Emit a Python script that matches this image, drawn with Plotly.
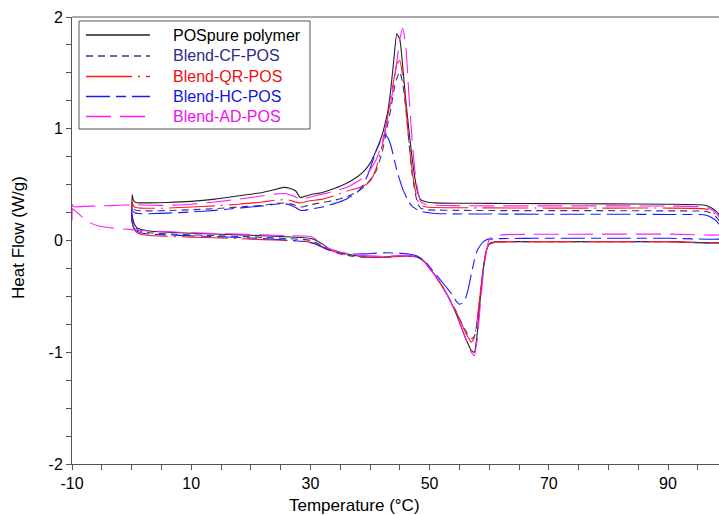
import plotly.graph_objects as go

# ---------------- data ----------------
series_names = ["POSpure polymer", "Blend-CF-POS", "Blend-QR-POS", "Blend-HC-POS", "Blend-AD-POS"]

# cooling branch temperatures (decreasing)
T_up = [100, 99, 98, 97, 96, 90, 80, 70, 60, 54, 51, 49.5, 48.5, 48, 47.5, 47, 46.5, 46, 45.5, 45,
        44.5, 44, 43.5, 43, 42.5, 42, 41, 40, 39, 38, 36, 34, 32, 30, 29, 28.3, 27.5, 26.5, 25.5, 24,
        22, 18, 14, 10, 6, 3, 1.5, 0.7, 0.3, 0.1, 0.0, -2, -5, -8, -9.5, -9.9, -10]

POS_up = [0.10, 0.20, 0.265, 0.30, 0.318, 0.325, 0.328, 0.33, 0.332, 0.334, 0.337, 0.345, 0.365, 0.43, 0.57,
          0.77, 1.00, 1.26, 1.55, 1.80, 1.85, 1.62, 1.36, 1.16, 1.04, 0.94, 0.80, 0.69, 0.62, 0.575, 0.51,
          0.465, 0.43, 0.41, 0.395, 0.385, 0.445, 0.468, 0.475, 0.455, 0.43, 0.40, 0.37, 0.35, 0.34, 0.337,
          0.337, 0.34, 0.36, 0.41, 0.27, None, None, None, None, None, None]
CF_up = [0.08, 0.15, 0.215, 0.25, 0.262, 0.265, 0.267, 0.267, 0.268, 0.27, 0.272, 0.275, 0.29, 0.33, 0.45,
         0.62, 0.90, 1.18, 1.40, 1.51, 1.45, 1.34, 1.18, 1.05, 0.91, 0.78, 0.62, 0.54, 0.48, 0.44, 0.39,
         0.36, 0.34, 0.32, 0.305, 0.30, 0.315, 0.33, 0.335, 0.33, 0.315, 0.30, 0.285, 0.275, 0.268, 0.265,
         0.265, 0.27, 0.285, 0.32, 0.20, None, None, None, None, None, None]
QR_up = [0.09, 0.17, 0.235, 0.27, 0.285, 0.29, 0.29, 0.29, 0.292, 0.293, 0.295, 0.30, 0.315, 0.36, 0.48,
         0.66, 0.90, 1.21, 1.46, 1.61, 1.58, 1.44, 1.29, 1.12, 0.97, 0.84, 0.64, 0.53, 0.49, 0.47, 0.44,
         0.40, 0.37, 0.355, 0.345, 0.335, 0.345, 0.36, 0.365, 0.36, 0.345, 0.325, 0.31, 0.30, 0.29, 0.288,
         0.29, 0.295, 0.31, 0.35, 0.22, None, None, None, None, None, None]
HC_up = [0.06, 0.12, 0.18, 0.215, 0.23, 0.233, 0.235, 0.235, 0.237, 0.238, 0.242, 0.25, 0.262, 0.272, 0.29,
         0.31, 0.345, 0.40, 0.46, 0.54, 0.63, 0.74, 0.85, 0.92, 0.945, 0.91, 0.80, 0.64, 0.51, 0.44, 0.37,
         0.33, 0.30, 0.28, 0.27, 0.27, 0.295, 0.32, 0.33, 0.325, 0.31, 0.29, 0.27, 0.255, 0.245, 0.24,
         0.24, 0.245, 0.26, 0.30, 0.17, None, None, None, None, None, None]
AD_up = [0.10, 0.18, 0.25, 0.285, 0.30, 0.308, 0.31, 0.31, 0.31, 0.312, 0.315, 0.32, 0.35, 0.45, 0.64,
         0.95, 1.33, 1.74, 1.90, 1.80, 1.60, 1.40, 1.24, 1.10, 0.98, 0.87, 0.72, 0.63, 0.57, 0.53, 0.475,
         0.44, 0.415, 0.39, 0.375, 0.365, 0.39, 0.41, 0.42, 0.415, 0.40, 0.37, 0.345, 0.325, 0.315, 0.315,
         0.318, 0.32, 0.32, 0.32, 0.32, 0.315, 0.31, 0.305, 0.30, 0.31, 0.37]

# heating branch temperatures (increasing)
T_low = [-10, -9.9, -9.5, -9, -8, -7, -5.5, -3, 0.0, 0.05, 0.3, 0.7, 1.5, 3, 6, 10, 14, 18, 22, 26, 29, 30,
         31, 32, 33, 35, 37, 39, 41, 43, 45, 47, 48, 49, 50, 51, 52, 53, 54, 54.5, 55, 55.5, 56, 56.5, 57,
         57.5, 58, 58.5, 59, 59.5, 60, 61, 63, 66, 70, 80, 90, 100]

POS_low = [None] * 9 + [0.24, 0.17, 0.125, 0.10, 0.085, 0.075, 0.065, 0.058, 0.05, 0.043, 0.033, 0.025, 0.018,
           0.0, -0.03, -0.07, -0.105, -0.13, -0.145, -0.15, -0.147, -0.14, -0.14, -0.15, -0.18, -0.245,
           -0.32, -0.40, -0.49, -0.60, -0.66, -0.73, -0.80, -0.87, -0.93, -0.985, -1.0, -0.83, -0.52, -0.26,
           -0.10, -0.03, -0.012, -0.01, -0.01, -0.01, -0.01, -0.01, -0.01]
CF_low = [None] * 9 + [0.21, 0.15, 0.11, 0.085, 0.07, 0.06, 0.05, 0.044, 0.036, 0.028, 0.018, 0.008, 0.0,
          -0.02, -0.05, -0.08, -0.12, -0.14, -0.15, -0.152, -0.148, -0.142, -0.142, -0.15, -0.185, -0.25,
          -0.32, -0.40, -0.49, -0.59, -0.64, -0.70, -0.75, -0.80, -0.85, -0.875, -0.86, -0.72, -0.48, -0.25,
          -0.10, -0.035, -0.015, -0.012, -0.01, -0.01, -0.01, -0.01, -0.01]
QR_low = [None] * 9 + [0.19, 0.12, 0.08, 0.055, 0.045, 0.038, 0.03, 0.025, 0.017, 0.008, 0.0, -0.008, -0.015,
          -0.03, -0.055, -0.08, -0.115, -0.135, -0.145, -0.148, -0.145, -0.14, -0.14, -0.15, -0.185, -0.25,
          -0.32, -0.40, -0.49, -0.59, -0.645, -0.70, -0.76, -0.82, -0.87, -0.91, -0.87, -0.70, -0.47, -0.24,
          -0.09, -0.03, -0.012, -0.01, -0.01, -0.01, -0.01, -0.01, -0.01]
HC_low = [None] * 9 + [0.17, 0.12, 0.09, 0.07, 0.058, 0.05, 0.042, 0.035, 0.027, 0.018, 0.005, -0.01, -0.02,
          -0.035, -0.06, -0.085, -0.11, -0.12, -0.12, -0.113, -0.11, -0.115, -0.125, -0.14, -0.175, -0.235,
          -0.30, -0.365, -0.43, -0.50, -0.545, -0.57, -0.56, -0.52, -0.43, -0.30, -0.18, -0.09, -0.045,
          -0.012, 0.005, 0.012, 0.016, 0.018, 0.019, 0.02, 0.02, 0.02, 0.02]
AD_low = [0.18, 0.285, 0.265, 0.245, 0.195, 0.16, 0.13, 0.11, 0.097, 0.096, 0.094, 0.092, 0.09, 0.085, 0.078,
          0.07, 0.063, 0.057, 0.05, 0.044, 0.04, 0.035, 0.01, -0.03, -0.07, -0.105, -0.125, -0.135, -0.14,
          -0.14, -0.135, -0.138, -0.15, -0.185, -0.25, -0.32, -0.40, -0.49, -0.60, -0.66, -0.73, -0.80,
          -0.87, -0.94, -1.0, -1.03, -0.88, -0.58, -0.30, -0.11, 0.01, 0.045, 0.053, 0.055, 0.056, 0.057,
          0.057, 0.057]

x_tickvals = [-10, 10, 30, 50, 70, 90]
x_ticktext = ["-10", "10", "30", "50", "70", "90"]
y_tickvals = [-2, -1, 0, 1, 2]
y_ticktext = ["-2", "-1", "0", "1", "2"]

# ---------------- styles ----------------
colors = ["#222222", "#34348f", "#ff1a1a", "#1a1aff", "#ff1aff"]
text_colors = ["#000000", "#2b2b8a", "#ee1111", "#1515dd", "#ee11ee"]
dashes = ["solid", "7px,5px", "46px,6px,2px,6px", "24px,6px,10px,6px", "25px,9px"]

lows = [POS_low, CF_low, QR_low, HC_low, AD_low]
ups = [POS_up, CF_up, QR_up, HC_up, AD_up]

W, H = 719, 515
ML, MR, MT, MB = 72, 0, 17, 51
XR = [-10, -10 + (W - ML - MR) / 5.96]
FONT = "Liberation Sans Narrow, Arial Narrow, Liberation Sans, Arial, sans-serif"

fig = go.Figure()
for name, lo, up, c, d in zip(series_names, lows, ups, colors, dashes):
    fig.add_trace(go.Scatter(
        x=T_low + T_up, y=lo + up, mode="lines", name=name, showlegend=False,
        line=dict(color=c, width=1.1, dash=d, shape="spline", smoothing=0.5),
        connectgaps=False,
    ))

pw, ph = W - ML - MR, H - MT - MB


def px(x):
    return (x - ML) / pw


def py(y):
    return (H - MB - y) / ph


shapes = [dict(type="line", xref="paper", yref="paper", x0=0, x1=1, y0=1, y1=1,
               line=dict(color="#555555", width=1))]
# legend box
shapes.append(dict(type="rect", xref="paper", yref="paper", x0=px(79), x1=px(310), y0=py(129), y1=py(21),
                   line=dict(color="#555555", width=1), fillcolor="white", layer="above"))
rows = [35, 56, 76.5, 96.5, 116.5]
annotations = []
for name, c, tc, d, r in zip(series_names, colors, text_colors, dashes, rows):
    shapes.append(dict(type="line", xref="paper", yref="paper", x0=px(86), x1=px(150), y0=py(r), y1=py(r),
                       line=dict(color=c, width=1.3, dash=d), layer="above"))
    annotations.append(dict(text=name, xref="paper", yref="paper", x=px(171), y=py(r), xanchor="left",
                            yanchor="middle", showarrow=False,
                            font=dict(family="Liberation Sans, Arial, sans-serif", size=16, color=tc)))

annotations.append(dict(text="Temperature (°C)", xref="paper", yref="paper", x=px(354), y=py(505),
                        xanchor="center", yanchor="middle", showarrow=False,
                        font=dict(family=FONT, size=17, color="#000")))
annotations.append(dict(text="Heat Flow (W/g)", xref="paper", yref="paper", x=px(18), y=py(237),
                        xanchor="center", yanchor="middle", textangle=-90, showarrow=False,
                        font=dict(family=FONT, size=17, color="#000")))

tickfont = dict(family=FONT, size=16, color="#000")
fig.update_layout(
    width=W, height=H, margin=dict(l=ML, r=MR, t=MT, b=MB, pad=0),
    paper_bgcolor="white", plot_bgcolor="white",
    shapes=shapes, annotations=annotations, showlegend=False,
    xaxis=dict(range=XR, tickmode="array", tickvals=x_tickvals, ticktext=x_ticktext,
               ticks="outside", ticklen=5, tickcolor="#555", showline=True, linecolor="#555", linewidth=1,
               showgrid=False, zeroline=False, tickfont=tickfont,
               minor=dict(tickmode="linear", tick0=-10, dtick=5, ticks="outside", ticklen=5, tickcolor="#555")),
    yaxis=dict(range=[-2, 2], tickmode="array", tickvals=y_tickvals, ticktext=y_ticktext,
               ticks="outside", ticklen=5, tickcolor="#555", showline=True, linecolor="#555", linewidth=1,
               showgrid=False, zeroline=False, tickfont=tickfont,
               minor=dict(tickmode="linear", tick0=-2, dtick=0.25, ticks="outside", ticklen=5, tickcolor="#555")),
)

fig.write_html("out.html")
